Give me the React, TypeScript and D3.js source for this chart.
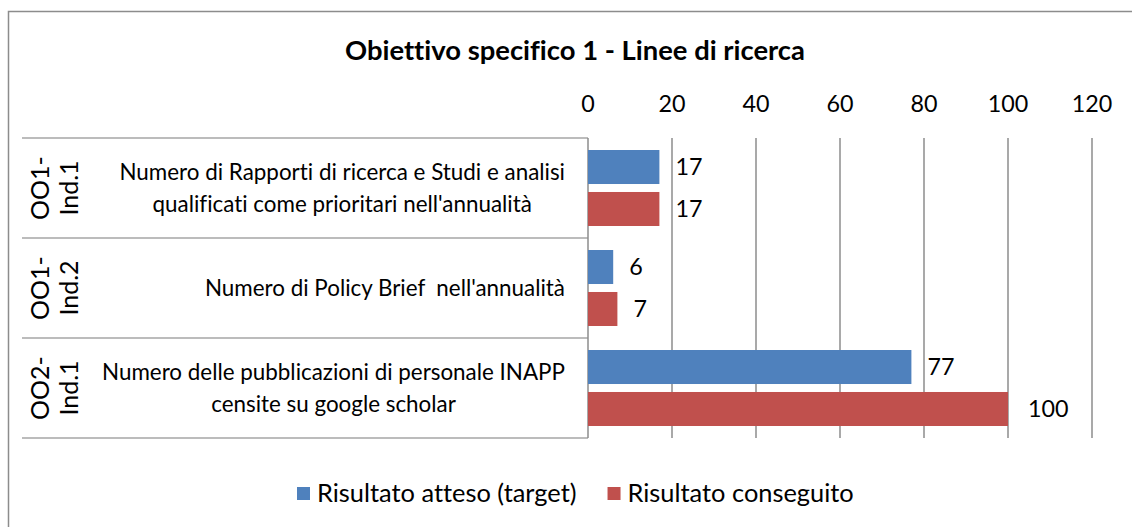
import React, { useEffect, useRef } from "react";
import * as d3 from "d3";

const title = "Obiettivo specifico 1 - Linee di ricerca";
const codes = [["OO1-", "Ind.1"], ["OO1-", "Ind.2"], ["OO2-", "Ind.1"]];
const indicators = [
  ["Numero di Rapporti di ricerca e Studi e analisi", "qualificati come prioritari nell'annualità"],
  ["Numero di Policy Brief  nell'annualità"],
  ["Numero delle pubblicazioni di personale INAPP", "censite su google scholar"],
];
const seriesNames = ["Risultato atteso (target)", "Risultato conseguito"];
const target = [17, 6, 77];
const achieved = [17, 7, 100];
const ticks = [0, 20, 40, 60, 80, 100, 120];
const colors = ["#4f81bd", "#c0504d"];

const W = 1132, H = 527;
const FONT = "Lato, 'Open Sans', sans-serif";

const App = () => {
  const svgRef = useRef<SVGSVGElement>(null);

  useEffect(() => {
    const svg = d3.select(svgRef.current);
    svg.selectAll("*").remove();
    svg.style("font-variant-ligatures", "none");

    const left = 588, right = 1092, top = 138, bottom = 438;
    const x = d3.scaleLinear().domain([0, 120]).range([left, right]);
    const y = d3.scaleBand<number>().domain(d3.range(codes.length)).range([top, bottom]);
    const inner = d3.scaleBand<number>().domain([0, 1]).range([12, 88]).paddingInner(0.19);

    // outer border: only the top and left edges are inside the picture
    svg.append("path")
      .attr("d", `M8.5,${H}V11.5H${W}`)
      .attr("fill", "none").attr("stroke", "#8c8c8c").attr("stroke-width", 1.5);

    svg.append("text")
      .attr("x", 575).attr("y", 50).attr("dy", "0.35em")
      .attr("text-anchor", "middle").attr("font-family", FONT)
      .attr("font-weight", "bold").attr("font-size", 27.4)
      .text(title);

    // gridlines
    svg.append("g").selectAll("line")
      .data(ticks.slice(1))
      .join("line")
      .attr("x1", d => x(d)).attr("x2", d => x(d))
      .attr("y1", top).attr("y2", bottom)
      .attr("stroke", "#8c8c8c").attr("stroke-width", 1.5);

    // tick labels (axis on top)
    svg.append("g").selectAll("text")
      .data(ticks)
      .join("text")
      .attr("x", d => x(d)).attr("y", 104).attr("dy", "0.35em")
      .attr("text-anchor", "middle").attr("font-family", FONT).attr("font-size", 23.3)
      .text(d => d);

    // category box lines
    const box = svg.append("g").attr("stroke", "#a6a6a6").attr("stroke-width", 1.5);
    d3.range(codes.length + 1).forEach(i => {
      const yy = i < codes.length ? y(i)! : bottom;
      box.append("line").attr("x1", 22).attr("x2", left).attr("y1", yy).attr("y2", yy);
    });
    box.append("line").attr("x1", left).attr("x2", left).attr("y1", top).attr("y2", bottom)
      .attr("stroke", "#8c8c8c");

    // bars
    const series = [target, achieved];
    series.forEach((vals, s) => {
      svg.append("g").selectAll("rect")
        .data(vals)
        .join("rect")
        .attr("x", x(0))
        .attr("y", (d, i) => y(i)! + inner(s)!)
        .attr("width", d => x(d) - x(0))
        .attr("height", inner.bandwidth())
        .attr("fill", colors[s]);
      svg.append("g").selectAll("text")
        .data(vals)
        .join("text")
        .attr("x", d => x(d) + (d >= 100 ? 20 : 16))
        .attr("y", (d, i) => y(i)! + inner(s)! + inner.bandwidth() / 2)
        .attr("dy", "0.35em")
        .attr("font-family", FONT).attr("font-size", 23.3)
        .text(d => d);
    });

    // rotated codes
    codes.forEach((lines, i) => {
      const cy = y(i)! + y.bandwidth() / 2;
      lines.forEach((t, j) => {
        svg.append("text")
          .attr("transform", `translate(${40 + j * 29},${cy}) rotate(-90)`)
          .attr("dy", "0.35em").attr("text-anchor", "middle")
          .attr("font-family", FONT).attr("font-size", 25)
          .text(t);
      });
    });

    // indicator labels: block right aligned, lines centred in block
    indicators.forEach((lines, i) => {
      const cy = y(i)! + y.bandwidth() / 2;
      const g = svg.append("g");
      const texts = lines.map((t, j) =>
        g.append("text")
          .attr("y", cy + (j - (lines.length - 1) / 2) * 32)
          .attr("dy", "0.35em").attr("text-anchor", "middle")
          .attr("font-family", FONT).attr("font-size", 22.4)
          .style("white-space", "pre")
          .text(t)
      );
      const maxW = d3.max(texts, t => (t.node() as SVGTextElement).getComputedTextLength()) || 0;
      texts.forEach(t => t.attr("x", 565 - maxW / 2));
    });

    // legend
    const lg = svg.append("g");
    let lx = 297;
    seriesNames.forEach((n, s) => {
      lg.append("rect").attr("x", lx).attr("y", 487).attr("width", 13).attr("height", 13)
        .attr("fill", colors[s]);
      const t = lg.append("text").attr("x", lx + 20).attr("y", 493).attr("dy", "0.35em")
        .attr("font-family", FONT).attr("font-size", 25.4).text(n);
      lx += 20 + (t.node() as SVGTextElement).getComputedTextLength() + 31;
    });
  }, []);

  return <svg ref={svgRef} width={W} height={H} style={{ position: "absolute", left: 0, top: 0 }}></svg>;
};

export default App;
